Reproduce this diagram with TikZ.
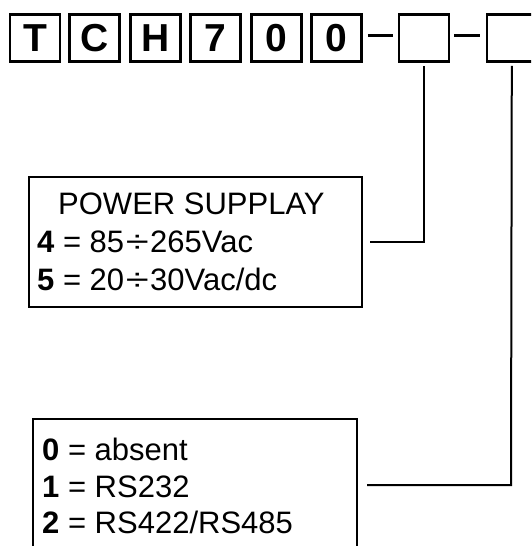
\documentclass[tikz,border=0pt]{standalone}
\usepackage{fontspec}
\usepackage{graphicx}
\setmainfont{Liberation Sans}
\usetikzlibrary{calc}
\newcommand{\dvd}{\kern1.5pt\scalebox{1.35}[1]{÷}\kern1.5pt}
\begin{document}
\begin{tikzpicture}[x=1pt,y=-1pt,
  codebox/.style={draw,line width=2.5pt,minimum width=50pt,minimum height=47pt,inner sep=0pt,
    font=\fontsize{39}{42}\selectfont\bfseries},
  framebox/.style={draw,line width=2.4pt,inner sep=0pt},
  conn/.style={line width=2pt},
  dashline/.style={line width=3pt},
  txt/.style={anchor=base west,inner sep=0pt,font=\fontsize{31}{36}\selectfont}]
\useasboundingbox (0,0) rectangle (531,546);
\clip (0,0) rectangle (531,546);
% top code boxes
\node[codebox] (b1) at (35.1,38.2) {T};
\node[codebox] (b2) at (94.5,38.2) {C};
\node[codebox] (b3) at (155.6,38.2) {H};
\node[codebox] (b4) at (215.6,38.2) {7};
\node[codebox] (b5) at (276.7,38.2) {0};
\node[codebox] (b6) at (336.7,38.2) {0};
\node[codebox] (b7) at (424.2,38.2) {};
\node[codebox] (b8) at (511.8,38.2) {};
% dashes
\draw[dashline] ([xshift=5pt,yshift=3pt]b6.east) -- ([xshift=-5pt,yshift=3pt]b7.west);
\draw[dashline] ([xshift=4pt,yshift=3pt]b7.east) -- ([xshift=-6pt,yshift=3pt]b8.west);
% power supply box
\node[framebox,minimum width=332.6pt,minimum height=129.6pt] (ps) at (195.5,242) {};
\node[txt] (ps0) at (58,214) {POWER SUPPLAY};
\node[txt] (ps1) at (37,252) {\textbf{4} = 85\dvd265Vac};
\node[txt] (ps2) at (37,290) {\textbf{5} = 20\dvd30Vac/dc};
% serial box
\node[framebox,minimum width=323.6pt,minimum height=160.8pt] (sb) at (195,499.6) {};
\node[txt] (sb0) at (42,460) {\textbf{0} = absent};
\node[txt] (sb1) at (42,497) {\textbf{1} = RS232};
\node[txt] (sb2) at (42,533) {\textbf{2} = RS422/RS485};
% connectors
\coordinate (k1) at (b7.south |- ps.east);
\draw[conn] ([xshift=7pt]ps.east) -- (k1) -- ([yshift=-3pt]b7.south);
\coordinate (k2) at (511,485);
\coordinate (k2s) at ($(sb.east |- k2)+(9,0)$);
\draw[conn] (k2s) -- (k2) -- ([yshift=-3pt]b8.south);
\end{tikzpicture}
\end{document}
